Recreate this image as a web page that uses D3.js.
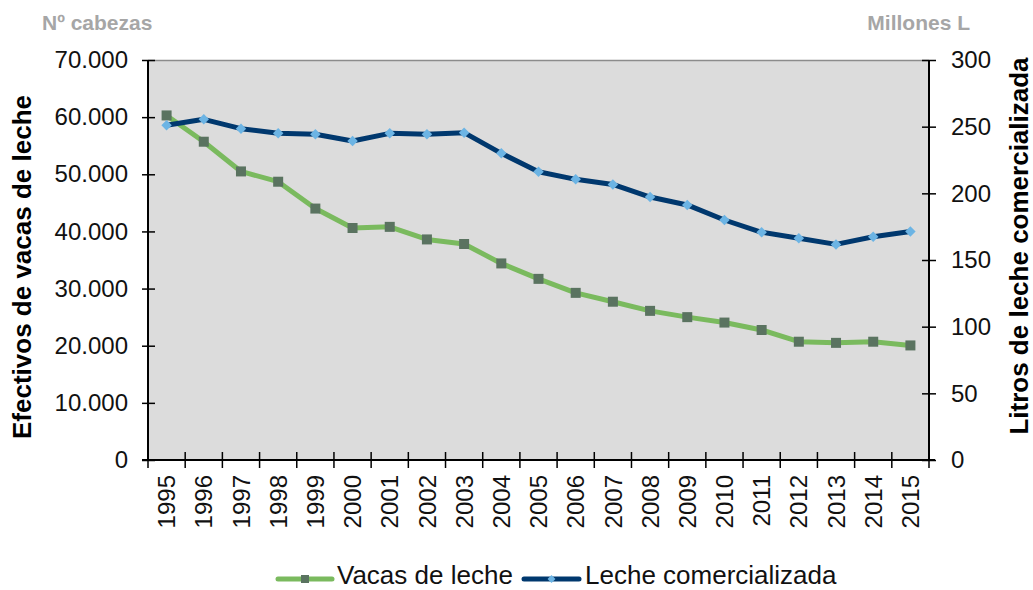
<!DOCTYPE html>
<html>
<head>
<meta charset="utf-8">
<script src="https://cdn.jsdelivr.net/npm/d3@7/dist/d3.min.js"></script>
<style>
  html, body { margin: 0; padding: 0; background: #ffffff; }
  svg { display: block; font-family: "Liberation Sans", Arial, sans-serif; }
</style>
</head>
<body>
<svg id="chart" width="1033" height="590"></svg>
<script>
const years = ["1995","1996","1997","1998","1999","2000","2001","2002","2003","2004","2005","2006","2007","2008","2009","2010","2011","2012","2013","2014","2015"];
const vacas = [60300, 55700, 50500, 48700, 44000, 40600, 40800, 38600, 37800, 34400, 31700, 29250, 27700, 26100, 25000, 24050, 22750, 20700, 20500, 20700, 20050];
const leche = [251, 255.5, 248.5, 245, 244.3, 239.3, 245, 244.3, 245.5, 230, 216.2, 210.5, 206.7, 197.2, 191.3, 180, 170.8, 166.3, 161.7, 167.4, 171.3];
const leftTicks = [0, 10000, 20000, 30000, 40000, 50000, 60000, 70000];
const rightTicks = [0, 50, 100, 150, 200, 250, 300];
const seriesNames = ["Vacas de leche", "Leche comercializada"];

const svg = d3.select("#chart");
const L = 148, R = 929, T = 60, B = 460;

const x = d3.scaleBand().domain(years).range([L, R]);
const cx = d => x(d) + x.bandwidth() / 2;
const yL = d3.scaleLinear().domain([0, 70000]).range([B, T]);
const yR = d3.scaleLinear().domain([0, 300]).range([B, T]);

const loc = d3.formatLocale({decimal: ",", thousands: ".", grouping: [3], currency: ["", ""]});
const fmt = loc.format(",");

// plot area
svg.append("rect").attr("x", L).attr("y", T).attr("width", R - L).attr("height", B - T)
  .attr("fill", "#dcdcdc");
svg.append("line").attr("x1", L).attr("x2", R).attr("y1", T + 0.5).attr("y2", T + 0.5)
  .attr("stroke", "#8c8c8c").attr("stroke-width", 1.5);

// left axis
const gL = svg.append("g").attr("transform", `translate(${L},0)`)
  .call(d3.axisLeft(yL).tickValues(leftTicks).tickFormat(fmt).tickSize(6).tickPadding(14));
gL.selectAll(".tick line").attr("x1", -6).attr("x2", 7).attr("stroke", "#000").attr("stroke-width", 1.5);
gL.select(".domain").attr("stroke", "#000").attr("stroke-width", 2).attr("d", `M0,${T}V${B}`);
gL.selectAll(".tick text").attr("font-size", 24).attr("fill", "#111").attr("font-family", "Liberation Sans, Arial, sans-serif");

// right axis
const gR = svg.append("g").attr("transform", `translate(${R},0)`)
  .call(d3.axisRight(yR).tickValues(rightTicks).tickSize(6).tickPadding(16));
gR.selectAll(".tick line").attr("x1", -7).attr("x2", 7).attr("stroke", "#000").attr("stroke-width", 1.5);
gR.select(".domain").attr("stroke", "#000").attr("stroke-width", 2).attr("d", `M0,${T}V${B}`);
gR.selectAll(".tick text").attr("font-size", 24).attr("fill", "#111").attr("font-family", "Liberation Sans, Arial, sans-serif");

// bottom axis
const gB = svg.append("g").attr("transform", `translate(0,${B})`)
  .call(d3.axisBottom(x).tickSize(0).tickPadding(0));
gB.select(".domain").attr("stroke", "#000").attr("stroke-width", 2).attr("d", `M${L - 6},0H${R + 6}`);
gB.selectAll(".tick text")
  .attr("font-size", 24).attr("fill", "#111").attr("font-family", "Liberation Sans, Arial, sans-serif")
  .attr("text-anchor", "end").attr("x", 0).attr("y", 0).attr("dy", "0.36em")
  .attr("transform", "translate(0,15) rotate(-90)");
const edges = years.map(d => x(d)).concat([R]);
gB.selectAll("line.edge").data(edges).enter().append("line").attr("class", "edge")
  .attr("x1", d => d).attr("x2", d => d).attr("y1", -8).attr("y2", 8)
  .attr("stroke", "#000").attr("stroke-width", 1.5);

// lines
const lineV = d3.line().x((d, i) => cx(years[i])).y(d => yL(d));
const lineL = d3.line().x((d, i) => cx(years[i])).y(d => yR(d));

const green = "#7aba5e", greenMk = "#5a7360", navy = "#00386e", blueMk = "#6cb4e4";

svg.append("path").datum(vacas).attr("d", lineV).attr("fill", "none")
  .attr("stroke", green).attr("stroke-width", 5).attr("stroke-linejoin", "round");
svg.selectAll("rect.vm").data(vacas).enter().append("rect").attr("class", "vm")
  .attr("x", (d, i) => cx(years[i]) - 5).attr("y", d => yL(d) - 5)
  .attr("width", 10).attr("height", 10).attr("fill", greenMk);

svg.append("path").datum(leche).attr("d", lineL).attr("fill", "none")
  .attr("stroke", navy).attr("stroke-width", 5).attr("stroke-linejoin", "round");
const diamond = d3.symbol().type(d3.symbolDiamond2).size(70);
svg.selectAll("path.lm").data(leche).enter().append("path").attr("class", "lm")
  .attr("transform", (d, i) => `translate(${cx(years[i])},${yR(d)})`)
  .attr("d", diamond).attr("fill", blueMk);

// titles
svg.append("text").attr("transform", "translate(31,267) rotate(-90)")
  .attr("text-anchor", "middle").attr("font-size", 26).attr("font-weight", "bold")
  .attr("fill", "#000").text("Efectivos de vacas de leche");
svg.append("text").attr("transform", "translate(1028,246) rotate(-90)")
  .attr("text-anchor", "middle").attr("font-size", 26).attr("font-weight", "bold")
  .attr("fill", "#000").text("Litros de leche comercializada");
svg.append("text").attr("x", 42).attr("y", 30).attr("font-size", 21).attr("font-weight", "bold")
  .attr("fill", "#a6a6a6").text("Nº cabezas");
svg.append("text").attr("x", 970).attr("y", 30).attr("text-anchor", "end").attr("font-size", 21).attr("font-weight", "bold")
  .attr("fill", "#a6a6a6").text("Millones L");

// legend
const legend = [
  {name: seriesNames[0], x1: 278, x2: 332, tx: 337, color: green, mk: "sq"},
  {name: seriesNames[1], x1: 524, x2: 579, tx: 585, color: navy, mk: "dm"}
];
const ly = 579;
legend.forEach(l => {
  svg.append("line").attr("x1", l.x1).attr("x2", l.x2).attr("y1", ly).attr("y2", ly)
    .attr("stroke", l.color).attr("stroke-width", 5).attr("stroke-linecap", "round");
  const mx = (l.x1 + l.x2) / 2;
  if (l.mk === "sq") {
    svg.append("rect").attr("x", mx - 4).attr("y", ly - 4).attr("width", 8).attr("height", 8).attr("fill", greenMk);
  } else {
    svg.append("path").attr("transform", `translate(${mx},${ly})`).attr("d", d3.symbol().type(d3.symbolDiamond2).size(40)).attr("fill", blueMk);
  }
  svg.append("text").attr("x", l.tx).attr("y", 584).attr("font-size", 26).attr("fill", "#111").text(l.name);
});
</script>
</body>
</html>
